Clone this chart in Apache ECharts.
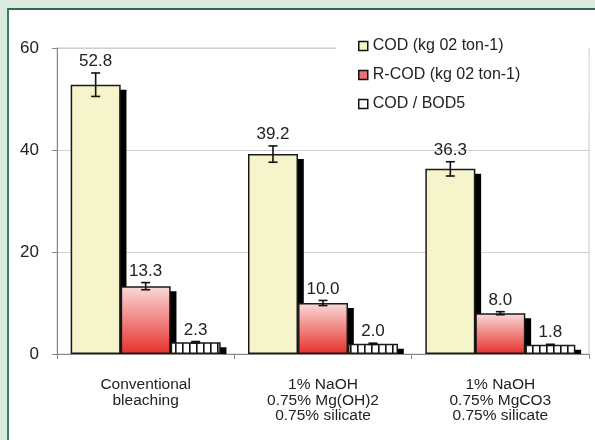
<!DOCTYPE html>
<html>
<head>
<meta charset="utf-8">
<script src="https://cdn.jsdelivr.net/npm/echarts@6/dist/echarts.min.js"></script>
<style>
html,body{margin:0;padding:0;background:#dbebe0;}
#frame{position:absolute;left:7px;top:8px;width:588px;height:432px;background:#fff;border-left:2px solid #3f7d5c;border-top:2px solid #2f6a4a;box-sizing:border-box;}
#chart{position:absolute;left:0;top:0;width:595px;height:440px;}
</style>
</head>
<body>
<div id="frame"></div>
<div id="chart"></div>
<script>
var categories = ['Conventional\nbleaching', '1% NaOH\n0.75% Mg(OH)2\n0.75% silicate', '1% NaOH\n0.75% MgCO3\n0.75% silicate'];
var seriesNames = ['COD (kg 02 ton-1)', 'R-COD (kg 02 ton-1)', 'COD / BOD5'];
var codValues = [52.8, 39.2, 36.3];
var codErrors = [2.3, 1.6, 1.4];
var rcodValues = [13.3, 10.0, 8.0];
var rcodErrors = [0.7, 0.5, 0.3];
var ratioValues = [2.3, 2.0, 1.8];
var ratioErrors = [0.15, 0.12, 0.1];
var yTicks = [0, 20, 40, 60];

var BAR_W = 50;
var FONT = '"Liberation Sans", Arial, sans-serif';

// stripe pattern for COD/BOD5
var pc = document.createElement('canvas');
pc.width = 7; pc.height = 10;
var pctx = pc.getContext('2d');
pctx.fillStyle = '#ffffff'; pctx.fillRect(0, 0, 7, 10);
pctx.fillStyle = '#111111'; pctx.fillRect(0, 0, 1.6, 10);

function barStyle(color) {
  return { color: color, borderColor: '#1a1a1a', borderWidth: 1.5 };
}

function errData(vals, errs) {
  return vals.map(function (v, i) { return [i, v, errs[i]]; });
}

function shadowSeries(name, vals, offset) {
  return {
    type: 'custom',
    name: name + ' shadow',
    z: 1,
    silent: true,
    data: vals.map(function (v, i) { return [i, v]; }),
    renderItem: function (params, api) {
      var i = api.value(0), v = api.value(1);
      var top = api.coord([i, v]);
      var base = api.coord([i, 0]);
      var x = top[0] + offset - BAR_W / 2 + 5;
      return {
        type: 'rect',
        shape: { x: x, y: top[1] + 5, width: BAR_W + 0.8, height: base[1] - top[1] - 5 },
        style: { fill: '#000' }
      };
    }
  };
}

function errorSeries(name, vals, errs, offset) {
  return {
    type: 'custom',
    name: name + ' err',
    z: 10,
    silent: true,
    data: errData(vals, errs),
    renderItem: function (params, api) {
      var i = api.value(0), v = api.value(1), e = api.value(2);
      var top = api.coord([i, v + e]);
      var bot = api.coord([i, v - e]);
      var x = top[0] + offset;
      var cap = 4.5;
      var st = { stroke: '#111', lineWidth: 1.6 };
      return {
        type: 'group',
        children: [
          { type: 'line', shape: { x1: x, y1: top[1], x2: x, y2: bot[1] }, style: st },
          { type: 'line', shape: { x1: x - cap, y1: top[1], x2: x + cap, y2: top[1] }, style: st },
          { type: 'line', shape: { x1: x - cap, y1: bot[1], x2: x + cap, y2: bot[1] }, style: st },
          { type: 'text', x: x, y: top[1] - 3, style: { text: v.toFixed(1), fill: '#222', font: '17px ' + FONT, textAlign: 'center', textVerticalAlign: 'bottom' } }
        ]
      };
    }
  };
}

var chart = echarts.init(document.getElementById('chart'), null, { renderer: 'canvas' });
chart.setOption({
  backgroundColor: 'transparent',
  animation: false,
  textStyle: { fontFamily: FONT },
  grid: { left: 57, right: 6, top: 48, bottom: 86, show: true, borderColor: '#c9c9c9', borderWidth: 1, backgroundColor: 'transparent' },
  legend: {
    orient: 'vertical',
    left: 336,
    top: 32,
    padding: [5, 68, 5, 22],
    backgroundColor: '#ffffff',
    itemWidth: 9,
    itemHeight: 9,
    itemGap: 11,
    icon: 'rect',
    textStyle: { fontSize: 16, color: '#222', lineHeight: 18, fontFamily: FONT },
    data: [
      { name: seriesNames[0], itemStyle: { color: '#f6f4cb', borderColor: '#111', borderWidth: 1.5 } },
      { name: seriesNames[1], itemStyle: { color: '#e8727a', borderColor: '#111', borderWidth: 1.5 } },
      { name: seriesNames[2], itemStyle: { color: '#ffffff', borderColor: '#111', borderWidth: 1.5 } }
    ]
  },
  xAxis: {
    type: 'category',
    data: categories,
    axisLine: { lineStyle: { color: '#888', width: 1 } },
    axisTick: { show: true, length: 5, alignWithLabel: false, lineStyle: { color: '#888' } },
    axisLabel: { fontSize: 15.5, lineHeight: 15.5, color: '#222', margin: 23, fontFamily: FONT, interval: 0 },
    splitLine: { show: false }
  },
  yAxis: {
    type: 'value',
    min: yTicks[0],
    max: yTicks[yTicks.length - 1],
    interval: 20,
    axisLine: { show: true, lineStyle: { color: '#888', width: 1 } },
    axisTick: { show: true, length: 5, lineStyle: { color: '#888' } },
    axisLabel: { fontSize: 17, color: '#222', margin: 18, fontFamily: FONT },
    splitLine: { show: true, lineStyle: { color: '#cfcfcf', width: 1 } }
  },
  series: [
    shadowSeries(seriesNames[0], codValues, -BAR_W),
    shadowSeries(seriesNames[1], rcodValues, 0),
    shadowSeries(seriesNames[2], ratioValues, BAR_W),
    {
      type: 'bar', name: seriesNames[0], data: codValues, barWidth: BAR_W, barGap: '0%', z: 2,
      itemStyle: barStyle('#f6f4cb')
    },
    {
      type: 'bar', name: seriesNames[1], data: rcodValues, barWidth: BAR_W, barGap: '0%', z: 2,
      itemStyle: barStyle(new echarts.graphic.LinearGradient(0, 0, 0, 1, [
        { offset: 0, color: '#fadada' },
        { offset: 1, color: '#e6302a' }
      ]))
    },
    {
      type: 'bar', name: seriesNames[2], data: ratioValues, barWidth: BAR_W, barGap: '0%', z: 2,
      itemStyle: barStyle({ image: pc, repeat: 'repeat' })
    },
    errorSeries(seriesNames[0], codValues, codErrors, -BAR_W),
    errorSeries(seriesNames[1], rcodValues, rcodErrors, 0),
    errorSeries(seriesNames[2], ratioValues, ratioErrors, BAR_W)
  ]
});
</script>
</body>
</html>
